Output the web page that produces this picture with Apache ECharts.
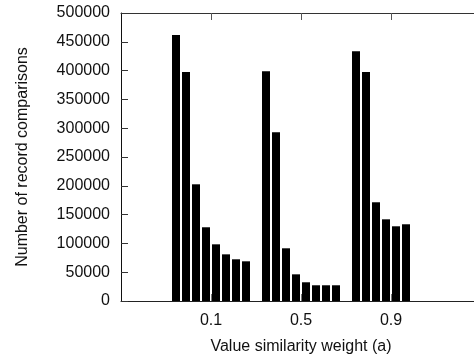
<!DOCTYPE html>
<html>
<head>
<meta charset="utf-8">
<script src="https://cdn.jsdelivr.net/npm/echarts@6/dist/echarts.min.js"></script>
<style>
  html, body { margin: 0; padding: 0; background: #fff; }
  #chart { width: 474px; height: 356px; }
</style>
</head>
<body>
<div id="chart"></div>
<script>
// x axis slots: empty padding slot on each side, like the gnuplot xrange
const weights = ['', '0.1', '0.5', '0.9', ''];
// eight bars per weight (third group only has six)
const group01 = [461800, 397500, 202600, 128000, 98400, 81000, 72400, 68900];
const group05 = [398800, 292900, 91500, 46300, 32500, 27300, 27300, 27300];
const group09 = [433500, 397500, 171400, 141800, 129700, 133200];
const yTicks = { min: 0, max: 500000, step: 50000 };

const chart = echarts.init(document.getElementById('chart'));

const font = 'Liberation Sans, Arial, Helvetica, sans-serif';
const series = [];
for (let i = 0; i < 8; i++) {
  series.push({
    type: 'bar',
    name: 'b' + (i + 1),
    data: ['-', group01[i], group05[i], group09[i] === undefined ? '-' : group09[i], '-'],
    barWidth: 8,
    barGap: '25%',
    itemStyle: { color: '#000' },
    silent: true
  });
}

const tickOnly = (idx) => idx >= 1 && idx <= 3;

const option = {
  animation: false,
  grid: { left: 121, right: -7, top: 13, bottom: 55, outerBoundsMode: 'none' },
  xAxis: [
    {
      type: 'category',
      data: weights,
      boundaryGap: false,
      name: 'Value similarity weight (a)',
      nameLocation: 'middle',
      nameGap: 38,
      nameTextStyle: { fontFamily: font, fontSize: 16, color: '#111' },
      axisLine: { onZero: false, lineStyle: { color: '#222', width: 1 } },
      axisTick: { inside: true, length: 7, interval: (i) => tickOnly(i), lineStyle: { color: '#777' } },
      axisLabel: { interval: (i) => tickOnly(i), margin: 12, fontFamily: font, fontSize: 16, color: '#111' },
      splitLine: { show: false }
    },
    {
      // mirror axis along the top of the frame
      type: 'category',
      data: weights,
      boundaryGap: false,
      position: 'top',
      axisLine: { show: true, onZero: false, lineStyle: { color: '#333', width: 1 } },
      axisTick: { show: true, inside: true, length: 7, interval: (i) => tickOnly(i), lineStyle: { color: '#555' } },
      axisLabel: { show: true, interval: (i) => tickOnly(i), formatter: () => '' },
      splitLine: { show: false }
    }
  ],
  yAxis: [
    {
      type: 'value',
      min: yTicks.min,
      max: yTicks.max,
      interval: yTicks.step,
      name: 'Number of record comparisons',
      nameLocation: 'middle',
      nameGap: 90,
      nameTextStyle: { fontFamily: font, fontSize: 16, color: '#111' },
      axisLine: { show: true, onZero: false, lineStyle: { color: '#111', width: 1 } },
      axisTick: { show: true, inside: true, length: 7, lineStyle: { color: '#333' } },
      axisLabel: { margin: 11, fontFamily: font, fontSize: 16, color: '#111', formatter: (v) => String(v) },
      splitLine: { show: false }
    },
    {
      type: 'value',
      min: yTicks.min,
      max: yTicks.max,
      interval: yTicks.step,
      position: 'right',
      axisLine: { show: true, onZero: false, lineStyle: { color: '#333' } },
      axisTick: { show: true, inside: true, length: 7, lineStyle: { color: '#ccc' } },
      axisLabel: { show: true, formatter: () => '' },
      splitLine: { show: false }
    }
  ],
  series: series
};

chart.setOption(option);
</script>
</body>
</html>
